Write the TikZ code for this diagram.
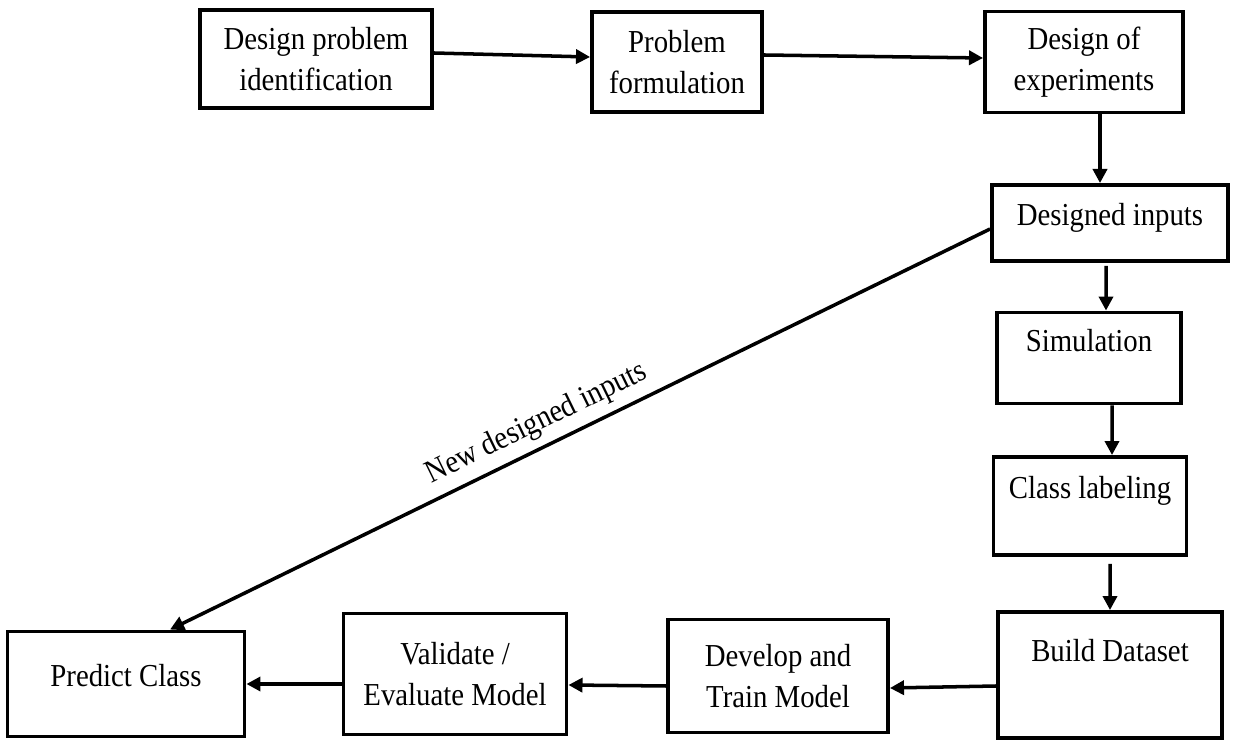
\documentclass[tikz,border=0pt]{standalone}
\usepackage{fontspec}
\setmainfont[FakeStretch=0.9]{Liberation Serif}
\usepackage{tikz}
\usetikzlibrary{arrows.meta,
                positioning
            }

\begin{document}
\begin{tikzpicture}[
        stage/.style={draw, line width=2.2pt, align=center,
                      font=\fontsize{18.2}{23}\selectfont},
        flow/.style={line width=2pt, -{Triangle[length=8pt, width=8pt]}}
    ]
            \useasboundingbox (0, 0) rectangle (24.68, 14.84);
            \node[stage, minimum width=4.64cm, minimum height=1.96cm] (ident) at (6.32, 13.66) {Design problem\\identification};
            \node[stage, minimum width=3.40cm, minimum height=2.00cm] (formul) at (13.54, 13.60) {Problem\\formulation};
            \node[stage, minimum width=3.96cm, minimum height=2.02cm] (doe) at (21.68, 13.60) {Design of\\experiments};
            \node[stage, minimum width=4.72cm, minimum height=1.52cm, text depth=0.36cm] (inputs) at (22.20, 10.38) {Designed inputs};
            \node[stage, minimum width=3.68cm, minimum height=1.82cm, text depth=0.72cm] (sim) at (21.78, 7.68) {Simulation};
            \node[stage, minimum width=3.86cm, minimum height=1.96cm, text depth=0.76cm] (label) at (21.80, 4.72) {Class labeling};
            \node[stage, minimum width=4.48cm, minimum height=2.52cm, text depth=1.00cm] (dataset) at (22.20, 1.34) {Build Dataset};
            \node[stage, minimum width=4.40cm, minimum height=2.26cm] (train) at (15.56, 1.32) {Develop and\\Train Model};
            \node[stage, minimum width=4.46cm, minimum height=2.42cm] (valid) at (9.10, 1.36) {Validate /\\Evaluate Model};
            \node[stage, minimum width=4.74cm, minimum height=2.10cm, text depth=0.36cm] (predict) at (2.52, 1.16) {Predict Class};

            \draw[flow] ([yshift=0.12cm]ident.east) -- ([yshift=0.10cm]formul.west);
            \draw[flow] ([yshift=0.14cm]formul.east) -- ([yshift=0.08cm]doe.west);
            \draw[flow] ([xshift=0.32cm]doe.south) -- ([xshift=-0.20cm]inputs.north);
            \draw[flow, shorten <=0.06cm] ([xshift=-0.08cm]inputs.south) -- ([xshift=0.34cm]sim.north);
            \draw[flow] ([xshift=0.46cm]sim.south) -- ([xshift=0.44cm]label.north);
            \draw[flow, shorten <=0.14cm] ([xshift=0.40cm]label.south) -- (dataset.north);
            \draw[flow] ([yshift=-0.22cm]dataset.west) -- ([yshift=-0.24cm]train.east);
            \draw[flow] ([yshift=-0.20cm]train.west) -- ([yshift=-0.22cm]valid.east);
            \draw[flow] ([yshift=-0.20cm]valid.west) -- (predict.east);
            \draw[flow] ([yshift=-0.12cm]inputs.west) -- ([xshift=0.88cm]predict.north)
                node[pos=0.54, above=1pt, sloped, font=\fontsize{18.2}{23}\selectfont] {New designed inputs};
\end{tikzpicture}
\end{document}
